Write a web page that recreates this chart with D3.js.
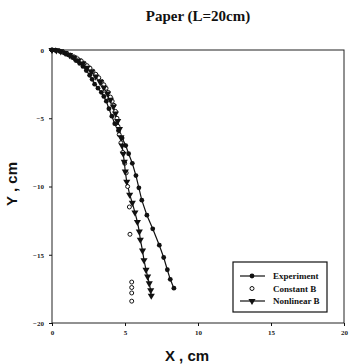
<!DOCTYPE html>
<meta charset="utf-8">
<style>
body { margin: 0; background: #fff; }
svg { display: block; }
.title { font: bold 15px "Liberation Serif", serif; fill: #111; }
.axlabel { font: bold 15px "Liberation Sans", Arial, sans-serif; fill: #111; }
.tick text { font: bold 7px "Liberation Serif", serif; fill: #222; }
.tick line { stroke: #111; }
.legend text { font: bold 9px "Liberation Serif", serif; fill: #111; }
</style>
<svg width="351" height="364"></svg>
<script src="https://d3js.org/d3.v7.min.js"></script>
<script>

// Experiment (filled circles, solid line)
var expX = [0, 0.25, 0.55, 0.85, 1.1, 1.4, 1.66, 1.9, 2.12, 2.35, 2.58, 2.75, 2.92, 3.15, 3.38, 3.55, 3.72, 3.9, 4.1, 4.3, 4.55, 4.8, 5.05, 5.25, 5.5, 5.75, 5.95, 6.15, 6.5, 6.9, 7.35, 7.65, 7.9, 8.1, 8.35];
var expY = [0, -0.02, -0.1, -0.22, -0.35, -0.55, -0.78, -0.98, -1.2, -1.5, -1.85, -2.15, -2.5, -2.8, -3.1, -3.4, -3.75, -4.3, -4.85, -5.4, -5.9, -6.45, -7.0, -7.6, -8.3, -9.2, -10.1, -11.0, -12.1, -13.1, -14.3, -15.2, -16.1, -16.8, -17.45];

// Constant B (open circles, no line)
var conX = [0, 0.25, 0.5, 0.75, 1.0, 1.25, 1.5, 1.75, 2.0, 2.2, 2.4, 2.6, 2.8, 3.0, 3.2, 3.4, 3.55, 3.7, 3.85, 4.0, 4.12, 4.24, 4.35, 4.45, 4.52, 4.6, 4.72, 4.85, 4.98, 5.08, 5.18, 5.3, 5.34, 5.46, 5.46, 5.46, 5.46];
var conY = [0, -0.02, -0.07, -0.15, -0.25, -0.37, -0.5, -0.65, -0.8, -0.97, -1.15, -1.33, -1.55, -1.78, -2.03, -2.3, -2.55, -2.8, -3.1, -3.45, -3.75, -4.05, -4.5, -5.0, -5.6, -6.2, -6.8, -7.5, -8.3, -9.0, -10.0, -11.5, -13.5, -17.0, -17.4, -17.8, -18.4];

// Nonlinear B (filled down triangles, solid line)
var nonX = [0, 0.3, 0.6, 0.9, 1.2, 1.5, 1.8, 2.1, 2.4, 2.7, 3.0, 3.3, 3.55, 3.8, 4.0, 4.2, 4.35, 4.5, 4.62, 4.72, 4.8, 4.88, 4.95, 5.02, 5.12, 5.32, 5.5, 5.68, 5.85, 5.98, 6.05, 6.2, 6.3, 6.44, 6.55, 6.66, 6.76, 6.8];
var nonY = [0, -0.03, -0.1, -0.22, -0.37, -0.56, -0.78, -1.02, -1.3, -1.6, -1.95, -2.35, -2.75, -3.2, -3.65, -4.15, -4.65, -5.2, -5.8, -6.4, -7.0, -7.6, -8.2, -8.9, -9.65, -10.6, -11.2, -11.9, -12.6, -13.3, -13.9, -14.7, -15.4, -16.1, -16.6, -17.1, -17.6, -18.0];

var xTicks = [0, 5, 10, 15, 20],
    yTicks = [0, -5, -10, -15, -20];

var svg = d3.select("svg"),
    margin = {top: 50, right: 7, bottom: 41, left: 52},
    width = +svg.attr("width") - margin.left - margin.right,
    height = +svg.attr("height") - margin.top - margin.bottom;

var x = d3.scaleLinear().domain([0, 20]).range([0, width]),
    y = d3.scaleLinear().domain([0, -20]).range([0, height]);

var g = svg.append("g")
    .attr("transform", "translate(" + margin.left + "," + margin.top + ")");

svg.append("text")
    .attr("class", "title")
    .attr("x", 198)
    .attr("y", 21)
    .attr("text-anchor", "middle")
    .text("Paper (L=20cm)");

// frame
g.append("rect")
    .attr("width", width)
    .attr("height", height)
    .attr("fill", "none")
    .attr("stroke", "#222")
    .attr("stroke-width", 1);

g.append("g")
    .attr("transform", "translate(0," + height + ")")
    .call(d3.axisBottom(x).tickValues(xTicks).tickSize(3).tickPadding(4))
    .call(function(s) { s.select(".domain").remove(); });

g.append("g")
    .call(d3.axisLeft(y).tickValues(yTicks).tickSize(3).tickPadding(5))
    .call(function(s) { s.select(".domain").remove(); });

svg.append("text")
    .attr("class", "axlabel")
    .attr("x", 187)
    .attr("y", 361)
    .attr("text-anchor", "middle")
    .text("X , cm");

svg.append("text")
    .attr("class", "axlabel")
    .attr("transform", "translate(17,184) rotate(-90)")
    .attr("text-anchor", "middle")
    .text("Y , cm");

var exp = d3.zip(expX, expY),
    con = d3.zip(conX, conY),
    non = d3.zip(nonX, nonY);

var line = d3.line()
    .x(function(d) { return x(d[0]); })
    .y(function(d) { return y(d[1]); });

var tri = d3.symbol().type(d3.symbolTriangle).size(22);

g.append("path").datum(exp).attr("d", line)
    .attr("fill", "none").attr("stroke", "#111").attr("stroke-width", 1.2);
g.append("path").datum(non).attr("d", line)
    .attr("fill", "none").attr("stroke", "#111").attr("stroke-width", 1.2);

g.selectAll(".con").data(con).enter().append("circle")
    .attr("class", "con")
    .attr("cx", function(d) { return x(d[0]); })
    .attr("cy", function(d) { return y(d[1]); })
    .attr("r", 2)
    .attr("fill", "#fff")
    .attr("stroke", "#111")
    .attr("stroke-width", 1);

g.selectAll(".exp").data(exp).enter().append("circle")
    .attr("class", "exp")
    .attr("cx", function(d) { return x(d[0]); })
    .attr("cy", function(d) { return y(d[1]); })
    .attr("r", 2.4)
    .attr("fill", "#111");

g.selectAll(".non").data(non).enter().append("path")
    .attr("class", "non")
    .attr("d", tri)
    .attr("transform", function(d) { return "translate(" + x(d[0]) + "," + y(d[1]) + ") rotate(180)"; })
    .attr("fill", "#111");

// legend
var lg = svg.append("g").attr("class", "legend");
lg.append("rect")
    .attr("x", 233).attr("y", 262)
    .attr("width", 94).attr("height", 50)
    .attr("fill", "#fff").attr("stroke", "#111").attr("stroke-width", 1.2);

var items = [
  {name: "Experiment", mark: "exp", line: true},
  {name: "Constant B", mark: "con", line: false},
  {name: "Nonlinear B", mark: "non", line: true}
];

items.forEach(function(it, i) {
  var yy = 276 + i * 12.5;
  if (it.line) {
    lg.append("line").attr("x1", 240).attr("x2", 265).attr("y1", yy).attr("y2", yy)
      .attr("stroke", "#111").attr("stroke-width", 1.2);
  }
  if (it.mark === "exp") {
    lg.append("circle").attr("cx", 252).attr("cy", yy).attr("r", 2.4).attr("fill", "#111");
  } else if (it.mark === "con") {
    lg.append("circle").attr("cx", 252).attr("cy", yy).attr("r", 2).attr("fill", "#fff")
      .attr("stroke", "#111");
  } else {
    lg.append("path").attr("d", tri)
      .attr("transform", "translate(252," + yy + ") rotate(180)").attr("fill", "#111");
  }
  lg.append("text").attr("x", 273).attr("y", yy + 3).text(it.name);
});

</script>
